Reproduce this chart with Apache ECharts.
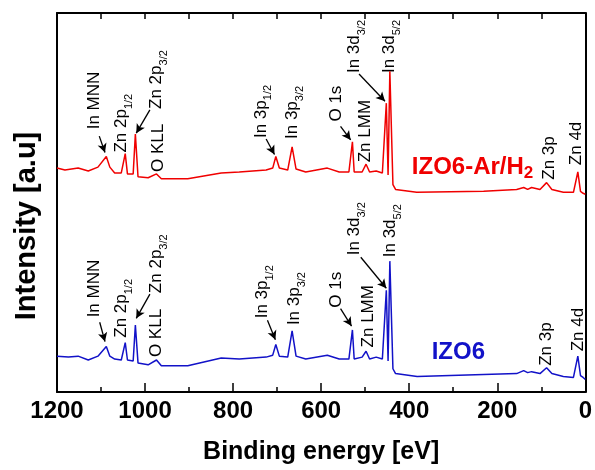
<!DOCTYPE html>
<html>
<head>
<meta charset="utf-8">
<script src="https://cdn.jsdelivr.net/npm/echarts@6/dist/echarts.min.js"></script>
<style>
html,body{margin:0;padding:0;background:#fff;}
#c{width:595px;height:470px;}
</style>
</head>
<body>
<div id="c"></div>
<script>
// ---------- data (binding energy in eV, intensity in arbitrary units) ----------
const redEnergy = [1200,1182,1152,1129,1107,1088,1080,1069,1054,1045,1040,1027,1022,1016,993,974,963,903,827,786,725,710,703,695,676,666,657,635,586,559,537,529,525,507,498,490,475,461,452,448,444,437,431,383,231,156,140,131,122,103,88,76,50,27,17,11,5,0];
const redIntensity = [231,229,231,228,232,243,232,226,226,246,225,225,266,222,221,225,220,220,226,227,229,231,243,231,229,253,230,227,231,227,227,258,227,227,235,227,228,226,298,224,331,214,209,206,207,209,211,209,211,209,216,209,206,206,227,207,205,204];

const blueEnergy = [1200,1174,1152,1129,1107,1088,1080,1069,1054,1045,1040,1027,1022,1016,993,974,963,903,827,786,725,710,703,695,676,666,657,635,586,559,537,529,525,507,498,490,475,461,452,448,444,437,431,382,231,156,140,131,122,103,88,76,50,27,17,11,5,0];
const blueIntensity = [37,36,37,33,37,47,37,34,33,51,33,32,69,30,28,33,27,27,35,34,36,38,49,37,36,63,37,34,38,34,34,64,34,36,42,34,36,34,105,32,135,24,19,16,18,19,22,20,21,19,25,19,16,15,37,17,15,13];

const xTicks = [0,200,400,600,800,1000,1200];

// peak annotations (text, anchored in data space)
const peakLabels = ['In MNN','Zn 2p{s|1/2}','Zn 2p{s|3/2}','O KLL','In 3p{s|1/2}','In 3p{s|3/2}','O 1s','Zn LMM','In 3d{s|3/2}','In 3d{s|5/2}','Zn 3p','Zn 4d'];
const redLabelEnergy = [1116,1054,974,971,737,665,565,499,525,445,82,20];
const redLabelIntensity = [271,247,292,227,262,261,279,237,329,329,219,234];
const blueLabelEnergy = [1116,1054,974,974,733,661,565,493,525,442,88,16];
const blueLabelIntensity = [77,56,102,36,76,69,87,46,141,139,27,42];

// arrows: [fromE, fromI, toE, toI, curveness]
const redArrows = [[1104,264,1091,247,0],[989,291,1020,267,0],[725,261,706,245,0],[556,274,533,260,0.35],[514,328,455,300,0]];
const blueArrows = [[1103,72,1091,52,0],[989,101,1020,76,0],[722,74,704,54,0],[556,86,531,68,0.35],[510,139,452,107,0]];

const sampleNames = ['IZO6-Ar/H{s|2}','IZO6'];
const sampleLabelEnergy = [394,349];
const sampleLabelIntensity = [232,41];

// ---------- chart ----------
const FONT = '"Liberation Sans", Arial, sans-serif';
const RED = '#f00000';
const BLUE = '#1212c8';
const zip = (a,b) => a.map((v,i)=>[v,b[i]]);
const arrowData = arr => arr.map(a => [
  {coord:[a[0],a[1]], lineStyle:{curveness:a[4]}},
  {coord:[a[2],a[3]], lineStyle:{curveness:a[4]}}
]);
const markLineCfg = arr => ({
  silent:true, animation:false,
  symbol:['none','arrow'], symbolSize:[7,9],
  label:{show:false},
  itemStyle:{color:'#000'},
  lineStyle:{color:'#000', width:1.3, type:'solid'},
  emphasis:{disabled:true},
  data: arrowData(arr)
});

const option = {
  animation:false,
  grid:{left:57, right:8, top:13, bottom:66},
  xAxis:[{
    type:'value', inverse:true, min:0, max:1200, interval:200,
    axisLine:{show:true, onZero:false, lineStyle:{color:'#000', width:2}},
    axisTick:{show:true, inside:true, length:9, lineStyle:{color:'#000', width:1.5}},
    minorTick:{show:true, splitNumber:2, length:5, lineStyle:{color:'#000', width:1.5}},
    splitLine:{show:false},
    axisLabel:{color:'#000', fontFamily:FONT, fontWeight:'bold', fontSize:24, margin:7,
      formatter: v => xTicks.includes(v) ? String(v) : ''},
    name:'Binding energy [eV]', nameLocation:'middle', nameGap:48,
    nameTextStyle:{color:'#000', fontFamily:FONT, fontWeight:'bold', fontSize:25}
  },{
    type:'value', position:'top', inverse:true, min:0, max:1200, interval:100,
    axisLine:{show:true, onZero:false, lineStyle:{color:'#000', width:2}},
    axisTick:{show:true, inside:true, length:6, lineStyle:{color:'#000', width:1.5}},
    axisLabel:{show:false}, splitLine:{show:false}
  }],
  yAxis:[{
    type:'value', min:0, max:391,
    axisLine:{show:true, onZero:false, lineStyle:{color:'#000', width:2}},
    axisTick:{show:false}, axisLabel:{show:false}, splitLine:{show:false}
  },{
    type:'value', position:'right', min:0, max:391,
    axisLine:{show:true, onZero:false, lineStyle:{color:'#000', width:2}},
    axisTick:{show:false}, axisLabel:{show:false}, splitLine:{show:false}
  }],
  series:[{
    name:'IZO6-Ar/H2', type:'line', showSymbol:false, symbol:'none',
    lineStyle:{color:RED, width:1.5}, itemStyle:{color:RED},
    data: zip(redEnergy, redIntensity),
    markLine: markLineCfg(redArrows)
  },{
    name:'IZO6', type:'line', showSymbol:false, symbol:'none',
    lineStyle:{color:BLUE, width:1.5}, itemStyle:{color:BLUE},
    data: zip(blueEnergy, blueIntensity),
    markLine: markLineCfg(blueArrows)
  }]
};

const chart = echarts.init(document.getElementById('c'), null, {renderer:'canvas'});
chart.setOption(option);

const toPx = (e,i) => chart.convertToPixel({xAxisIndex:0, yAxisIndex:0}, [e,i]);
const graphics = [];
function addPeakLabels(energies, intensities){
  peakLabels.forEach((t,k) => {
    const p = toPx(energies[k], intensities[k]);
    graphics.push({
      type:'text', x:p[0], y:p[1], rotation:Math.PI/2, silent:true,
      style:{
        text:t, fill:'#000', fontFamily:FONT, fontSize:17, lineHeight:26,
        align:'left', verticalAlign:'middle',
        rich:{s:{fontFamily:FONT, fontSize:11, fill:'#000', verticalAlign:'bottom', lineHeight:6}}
      }
    });
  });
}
addPeakLabels(redLabelEnergy, redLabelIntensity);
addPeakLabels(blueLabelEnergy, blueLabelIntensity);
[RED, BLUE].forEach((c,k) => {
  const p = toPx(sampleLabelEnergy[k], sampleLabelIntensity[k]);
  graphics.push({
    type:'text', x:p[0], y:p[1], silent:true,
    style:{
      text:sampleNames[k], fill:c, fontFamily:FONT, fontWeight:'bold', fontSize:24, lineHeight:30,
      align:'left', verticalAlign:'middle',
      rich:{s:{fontFamily:FONT, fontWeight:'bold', fontSize:17, fill:c, verticalAlign:'bottom', lineHeight:10}}
    }
  });
});
// y-axis title
graphics.push({
  type:'text', x:27, y:226, rotation:Math.PI/2, silent:true,
  style:{text:'Intensity [a.u]', fill:'#000', fontFamily:FONT, fontWeight:'bold', fontSize:29,
    align:'center', verticalAlign:'middle'}
});
chart.setOption({graphic: graphics});
</script>
</body>
</html>
